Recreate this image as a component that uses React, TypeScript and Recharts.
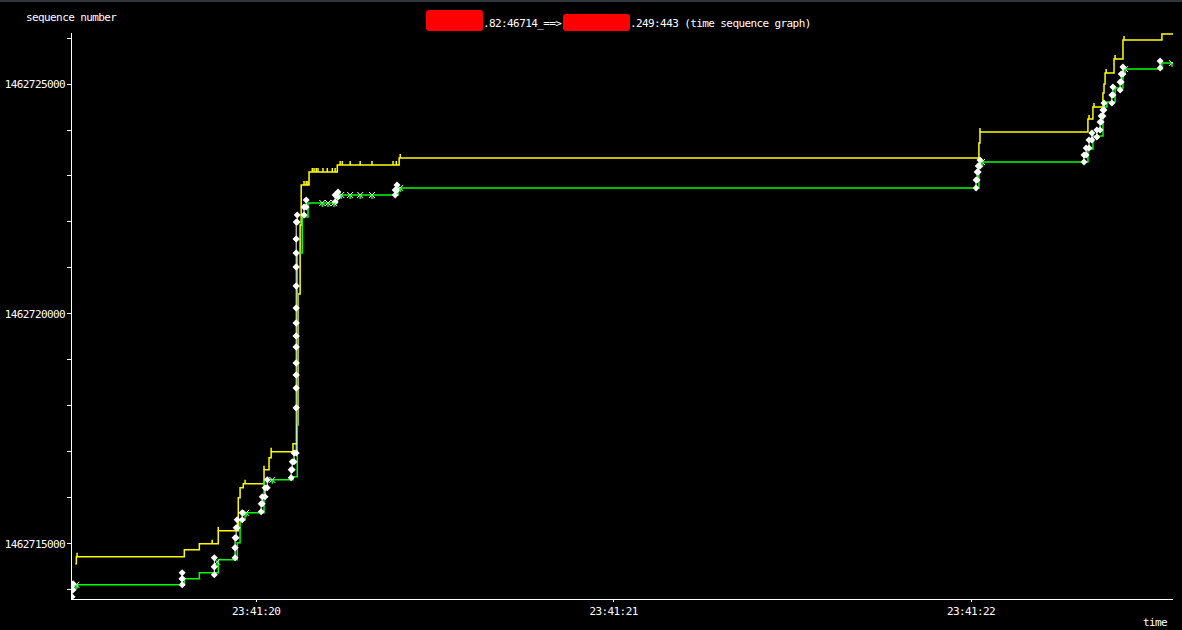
import React from "react";
import { ComposedChart, Line, XAxis, YAxis } from "recharts";

// time axis: seconds past 23:41:00
const X_TICKS = [20, 21, 22];
const Y_TICKS = [
  1462714000, 1462715000, 1462716000, 1462717000, 1462718000, 1462719000, 1462720000,
  1462721000, 1462722000, 1462723000, 1462724000, 1462725000, 1462726000,
];

// receive window (yellow)
const winT = [
  19.494, 19.497, 19.799, 19.841, 19.894, 19.95, 19.955, 19.964, 20.022, 20.036, 20.042,
  20.103, 20.115, 20.117, 20.123, 20.126, 20.148, 20.227, 20.4, 22.022, 22.025, 22.327,
  22.341, 22.369, 22.372, 22.375, 22.4, 22.425, 22.534, 22.565,
];
const winSeq = [
  1462714565, 1462714717, 1462714870, 1462715000, 1462715283, 1462716000, 1462716217,
  1462716304, 1462716609, 1462716870, 1462717000, 1462717174, 1462717587, 1462720435,
  1462721935, 1462722805, 1462723087, 1462723239, 1462723391, 1462723717, 1462723957,
  1462724239, 1462724500, 1462724805, 1462725000, 1462725239, 1462725544, 1462725957,
  1462726090, 1462726090,
];

// ack line (green)
const ackT = [
  19.494, 19.499, 19.799, 19.841, 19.894, 19.947, 19.955, 19.969, 20.022, 20.103, 20.115,
  20.129, 20.145, 20.227, 20.397, 22.022, 22.327, 22.341, 22.369, 22.38, 22.403, 22.425,
  22.534, 22.565,
];
const ackSeq = [
  1462714043, 1462714109, 1462714239, 1462714370, 1462714652, 1462715022, 1462715522,
  1462715674, 1462716391, 1462716457, 1462721326, 1462722109, 1462722413, 1462722587,
  1462722739, 1462723305, 1462723587, 1462723870, 1462724500, 1462724609, 1462724913,
  1462725327, 1462725457, 1462725457,
];

// data segments (white): time, first byte, last byte
const segT = [
  19.485, 19.488, 19.793, 19.793, 19.883, 19.883, 19.941, 19.941, 19.944, 19.947, 19.961,
  20.014, 20.017, 20.025, 20.031, 20.098, 20.101, 20.106,
  20.112, 20.112, 20.112, 20.112, 20.112, 20.112, 20.112, 20.112, 20.112, 20.112, 20.112,
  20.112, 20.112, 20.115,
  20.134, 20.14, 20.221, 20.229, 20.389, 20.394,
  22.014, 22.017, 22.02, 22.025,
  22.316, 22.322, 22.33, 22.338, 22.352, 22.361, 22.364, 22.369, 22.372, 22.394, 22.397,
  22.417, 22.42, 22.425, 22.529,
];
const segLo = [
  1462713848, 1462714000, 1462714109, 1462714239, 1462714326, 1462714500, 1462714696,
  1462714913, 1462715130, 1462715348, 1462715522, 1462715696, 1462715870, 1462716022,
  1462716217, 1462716435, 1462716609, 1462716783,
  1462716978, 1462717957, 1462718391, 1462718674, 1462718935, 1462719283, 1462719522,
  1462719804, 1462720130, 1462720609, 1462721022, 1462721326, 1462721630, 1462722000,
  1462722152, 1462722326, 1462722435, 1462722543, 1462722587, 1462722696,
  1462722739, 1462722913, 1462723087, 1462723217,
  1462723304, 1462723457, 1462723609, 1462723783, 1462723848, 1462724000, 1462724174,
  1462724304, 1462724435, 1462724587, 1462724761, 1462724870, 1462725043, 1462725217,
  1462725348,
];
const segHi = [
  1462714000, 1462714130, 1462714239, 1462714370, 1462714500, 1462714696, 1462714913,
  1462715130, 1462715348, 1462715522, 1462715674, 1462715870, 1462716022, 1462716217,
  1462716391, 1462716609, 1462716783, 1462716978,
  1462717957, 1462718391, 1462718674, 1462718935, 1462719283, 1462719522, 1462719804,
  1462720130, 1462720609, 1462721022, 1462721326, 1462721630, 1462722000, 1462722152,
  1462722326, 1462722478, 1462722587, 1462722652, 1462722696, 1462722804,
  1462722913, 1462723087, 1462723217, 1462723348,
  1462723457, 1462723609, 1462723783, 1462723935, 1462724000, 1462724174, 1462724304,
  1462724435, 1462724587, 1462724761, 1462724935, 1462725043, 1462725217, 1462725370,
  1462725500,
];

// duplicate-ack marks (white x)
const dupT = [
  19.497, 19.891, 19.972, 20.045, 20.185, 20.201, 20.218, 20.238, 20.263, 20.291, 20.324,
  20.403, 22.031, 22.431, 22.562,
];
const dupSeq = [
  1462714109, 1462714609, 1462715674, 1462716391, 1462722413, 1462722413, 1462722413,
  1462722587, 1462722587, 1462722587, 1462722587, 1462722739, 1462723304, 1462725326,
  1462725457,
];

// window update ticks (yellow)
const wtT = [
  19.499, 19.877, 19.894, 19.969, 20.022, 20.042, 20.134, 20.14, 20.145, 20.157, 20.162,
  20.168, 20.173, 20.187, 20.199, 20.213, 20.221, 20.235, 20.241, 20.263, 20.291, 20.324,
  20.383, 20.392, 20.403, 22.025, 22.33, 22.344, 22.378, 22.403, 22.428,
];
const wtSeq = [
  1462714717, 1462715000, 1462715283, 1462716304, 1462716609, 1462717000, 1462722805,
  1462722805, 1462722805, 1462723087, 1462723087, 1462723087, 1462723087, 1462723087,
  1462723087, 1462723087, 1462723087, 1462723239, 1462723239, 1462723239, 1462723239,
  1462723239, 1462723239, 1462723239, 1462723391, 1462723957, 1462724239, 1462724500,
  1462725239, 1462725544, 1462725957,
];

const winData = winT.map((t, i) => ({ t, seq: winSeq[i] }));
const ackData = ackT.map((t, i) => ({ t, seq: ackSeq[i] }));
const segData = segT.flatMap((t, i) => [
  { t, seq: segLo[i] },
  { t, seq: segHi[i] },
  { t, seq: null },
]);
const dupData = dupT.map((t, i) => ({ t, seq: dupSeq[i] }));
const wtData = wtT.map((t, i) => ({ t, seq: wtSeq[i] }));

const FONT = "'DejaVu Sans Mono', monospace";
const tickStyle = { fill: "#fff", fontSize: 11, fontFamily: FONT, letterSpacing: "-0.6px" };

const Arrow = (p: any) => {
  const { cx, cy, payload, index } = p;
  if (payload == null || payload.seq == null || cx == null || cy == null) return <g key={index} />;
  return (
    <path
      key={index}
      d={`M${cx},${cy - 3.5}L${cx + 3.5},${cy}L${cx},${cy + 3.5}L${cx - 3.5},${cy}Z`}
      fill="#fff"
    />
  );
};

const DupMark = (p: any) => {
  const { cx, cy, index } = p;
  if (cx == null || cy == null) return <g key={index} />;
  return (
    <g key={index}>
      <path
        d={`M${cx - 3},${cy - 3}L${cx + 3},${cy + 3}M${cx - 3},${cy + 3}L${cx + 3},${cy - 3}`}
        stroke="#fff"
        strokeWidth={1}
      />
      <path d={`M${cx},${cy}V${cy + 4}`} stroke="#0f0" strokeWidth={1.5} />
    </g>
  );
};

const WinTick = (p: any) => {
  const { cx, cy, index } = p;
  if (cx == null || cy == null) return <g key={index} />;
  return <path key={index} d={`M${cx},${cy}V${cy - 4}`} stroke="#ff0" strokeWidth={1.5} />;
};

export default function App() {
  return (
    <div
      style={{
        position: "absolute",
        left: 0,
        top: 0,
        width: 1182,
        height: 630,
        background: "#000",
        overflow: "hidden",
      }}
    >
      <div style={{ position: "absolute", left: 0, top: 0, width: 1182, height: 2, background: "#33373c" }} />
      <ComposedChart width={1182} height={630} margin={{ top: 33, right: 9, left: 0, bottom: 0 }}>
        <XAxis
          dataKey="t"
          type="number"
          domain={[19.482, 22.565]}
          allowDataOverflow
          ticks={X_TICKS}
          tickFormatter={(v: number) => `23:41:${String(v).padStart(2, "0")}`}
          height={31}
          stroke="#fff"
          axisLine={{ stroke: "#fff", shapeRendering: "crispEdges" }}
          tickLine={{ stroke: "#fff", shapeRendering: "crispEdges" }}
          tickSize={3}
          tickMargin={5}
          tick={tickStyle}
        />
        <YAxis
          dataKey="seq"
          type="number"
          domain={[1462713800, 1462726110]}
          allowDataOverflow
          ticks={Y_TICKS}
          interval={0}
          tickFormatter={(v: number) => (v % 5000 === 0 ? String(v) : "")}
          width={71}
          stroke="#fff"
          axisLine={{ stroke: "#fff", shapeRendering: "crispEdges" }}
          tickLine={{ stroke: "#fff", shapeRendering: "crispEdges" }}
          tickSize={4}
          tickMargin={2}
          tick={tickStyle}
        />
        <Line
          data={winData}
          dataKey="seq"
          type="stepAfter"
          stroke="#ffff00"
          strokeWidth={1.5}
          dot={false}
          activeDot={false}
          isAnimationActive={false}
        />
        <Line
          data={wtData}
          dataKey="seq"
          stroke="none"
          dot={WinTick}
          activeDot={false}
          isAnimationActive={false}
        />
        <Line
          data={ackData}
          dataKey="seq"
          type="stepAfter"
          stroke="#00ff00"
          strokeWidth={1.5}
          dot={false}
          activeDot={false}
          isAnimationActive={false}
        />
        <Line
          data={segData}
          dataKey="seq"
          type="linear"
          stroke="#fff"
          strokeWidth={1}
          connectNulls={false}
          dot={Arrow}
          activeDot={false}
          isAnimationActive={false}
        />
        <Line
          data={dupData}
          dataKey="seq"
          stroke="none"
          dot={DupMark}
          activeDot={false}
          isAnimationActive={false}
        />
      </ComposedChart>
      <svg
        width={1182}
        height={630}
        style={{ position: "absolute", left: 0, top: 0, pointerEvents: "none" }}
      >
        <g fontFamily={FONT} fontSize={11} fill="#fff" letterSpacing="-0.6px">
          <text x={26} y={21}>sequence number</text>
          <rect x={426} y={10} width={57} height={21} rx={3} fill="#ff0000" />
          <text x={483} y={27}>.82:46714_==&gt;</text>
          <rect x={563} y={14} width={67} height={17} rx={3} fill="#ff0000" />
          <text x={630} y={27}>.249:443 (time sequence graph)</text>
          <text x={1143} y={626}>time</text>
        </g>
      </svg>
    </div>
  );
}
